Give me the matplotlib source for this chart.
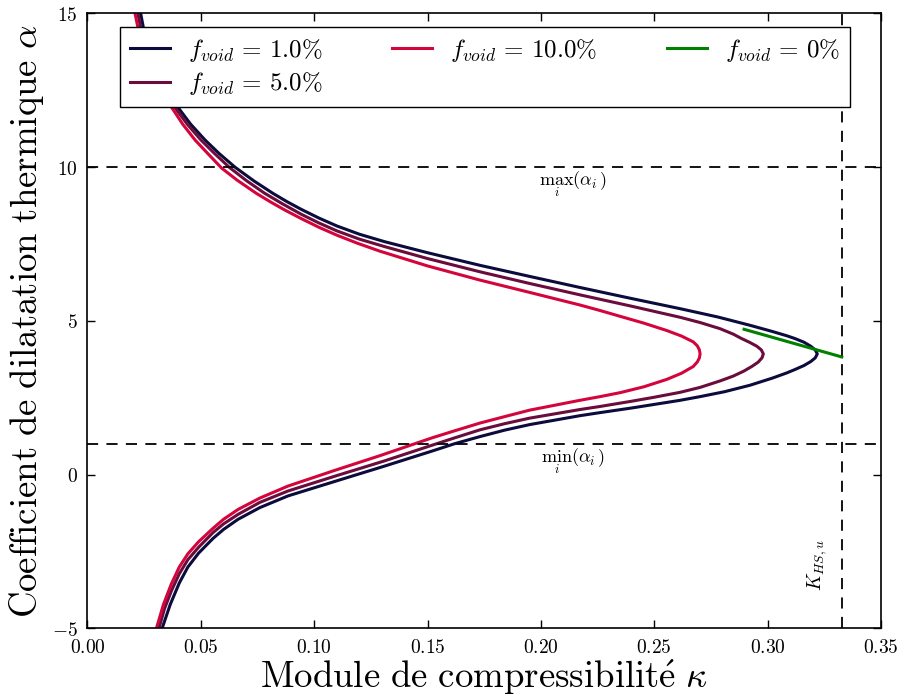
## alpha vs kappa curves for several void fractions

import numpy as np
import matplotlib
matplotlib.use('Agg')
import matplotlib.pyplot as plt
from matplotlib.ticker import FuncFormatter

plt.rcParams['mathtext.fontset'] = 'cm'
plt.rcParams['lines.scale_dashes'] = False

## curve points: upper branch (top -> tip) then lower branch (tip -> bottom)
kappa_1 = [0.0232, 0.0246, 0.029, 0.0355, 0.0408, 0.0455, 0.0518, 0.058, 0.0651, 0.0735, 0.0818, 0.088,
           0.0943, 0.102, 0.110, 0.120, 0.131, 0.150, 0.1731, 0.195, 0.2172, 0.240, 0.2614, 0.278,
           0.2922, 0.302, 0.3084, 0.312, 0.316, 0.319, 0.321, 0.3219,
           0.321, 0.319, 0.316, 0.312, 0.3084, 0.302, 0.2922, 0.281, 0.2702, 0.2614, 0.240, 0.2261,
           0.2172, 0.195, 0.184, 0.1731, 0.162, 0.152, 0.131, 0.109, 0.0884, 0.076, 0.0664, 0.060,
           0.0554, 0.049, 0.0443, 0.0405, 0.0365, 0.0329]
alpha_1 = [15.1, 14.56, 13.5, 12.5, 11.86, 11.4, 10.89, 10.45, 10.0, 9.55, 9.15, 8.88,
           8.63, 8.35, 8.09, 7.82, 7.58, 7.22, 6.81, 6.45, 6.09, 5.73, 5.40, 5.13,
           4.86, 4.66, 4.52, 4.43, 4.31, 4.18, 4.06, 3.93,
           3.80, 3.68, 3.55, 3.42, 3.31, 3.14, 2.91, 2.70, 2.54, 2.42, 2.17, 2.02,
           1.92, 1.63, 1.45, 1.24, 1.01, 0.77, 0.28, -0.22, -0.69, -1.07, -1.45, -1.78,
           -2.07, -2.55, -3.0, -3.52, -4.22, -5.0]

kappa_5 = [0.0220, 0.0234, 0.0277, 0.034, 0.0394, 0.0440, 0.0500, 0.0560, 0.0625, 0.0700, 0.0780,
           0.0860, 0.0943, 0.102, 0.110, 0.120, 0.131, 0.150, 0.1731, 0.195, 0.2172, 0.240, 0.2614,
           0.2702, 0.279, 0.2849, 0.2882, 0.2922, 0.2952, 0.2972, 0.2981,
           0.2975, 0.2958, 0.2930, 0.2895, 0.2849, 0.279, 0.2702, 0.2614, 0.250, 0.240, 0.2261,
           0.2172, 0.195, 0.184, 0.1731, 0.162, 0.152, 0.131, 0.109, 0.0884, 0.076, 0.0664, 0.060,
           0.0554, 0.049, 0.0443, 0.0405, 0.0370, 0.0340, 0.0315]
alpha_5 = [15.1, 14.56, 13.5, 12.5, 11.86, 11.4, 10.89, 10.45, 10.0, 9.57, 9.16,
           8.81, 8.47, 8.19, 7.93, 7.66, 7.42, 7.03, 6.60, 6.22, 5.85, 5.48, 5.12,
           4.95, 4.75, 4.57, 4.44, 4.30, 4.18, 4.06, 3.93,
           3.80, 3.66, 3.52, 3.37, 3.21, 3.05, 2.84, 2.68, 2.52, 2.39, 2.22,
           2.12, 1.84, 1.66, 1.46, 1.20, 0.96, 0.45, -0.05, -0.53, -0.90, -1.29, -1.60,
           -1.88, -2.36, -2.76, -3.22, -3.78, -4.35, -5.0]

kappa_10 = [0.0207, 0.0222, 0.0263, 0.032, 0.0379, 0.042, 0.0474, 0.053, 0.0592, 0.066, 0.0745,
            0.081, 0.087, 0.094, 0.102, 0.110, 0.119, 0.129, 0.150, 0.1731, 0.195, 0.2172, 0.2261,
            0.235, 0.2454, 0.2555, 0.262, 0.2672, 0.2690, 0.2699, 0.2702,
            0.2699, 0.2690, 0.2672, 0.262, 0.2555, 0.2454, 0.235, 0.2261, 0.2172, 0.195, 0.184,
            0.1731, 0.162, 0.152, 0.129, 0.109, 0.0884, 0.076, 0.0664, 0.060, 0.0554, 0.049,
            0.0443, 0.0405, 0.037, 0.0335, 0.0304]
alpha_10 = [15.1, 14.56, 13.5, 12.5, 11.86, 11.4, 10.89, 10.45, 9.97, 9.58, 9.15,
            8.86, 8.61, 8.34, 8.05, 7.79, 7.53, 7.27, 6.79, 6.33, 5.93, 5.52, 5.34,
            5.15, 4.93, 4.69, 4.51, 4.32, 4.19, 4.06, 3.93,
            3.80, 3.67, 3.52, 3.30, 3.10, 2.86, 2.67, 2.54, 2.42, 2.10, 1.89,
            1.68, 1.43, 1.20, 0.62, 0.14, -0.37, -0.76, -1.13, -1.45, -1.74, -2.18,
            -2.57, -3.00, -3.55, -4.22, -5.0]

## no void line
kappa_0 = [0.2896, 0.3327]
alpha_0 = [4.73, 3.83]

alpha_max = 10.0
alpha_min = 1.0
k_hs = 0.3327

fig = plt.figure(figsize=(9.01, 6.99), dpi=100)
ax = fig.add_axes([0.0971, 0.1009, 0.8807, 0.8798])

ax.plot(kappa_1, alpha_1, color='#0b0b3d', lw=2.2, label=r'$f_{void}\,=\,1.0\%$')
ax.plot(kappa_5, alpha_5, color='#6a0c3c', lw=2.2, label=r'$f_{void}\,=\,5.0\%$')
ax.plot(kappa_10, alpha_10, color='#d4043c', lw=2.2, label=r'$f_{void}\,=\,10.0\%$')
ax.plot(kappa_0, alpha_0, color='green', lw=2.2, label=r'$f_{void}\,=\,0\%$')

## bounds
ax.axhline(alpha_max, color='k', lw=1.3, dashes=(8, 6))
ax.axhline(alpha_min, color='k', lw=1.3, dashes=(8, 6))
ax.axvline(k_hs, color='k', lw=1.3, dashes=(8, 6))
ax.text(0.214, alpha_max - 0.55, r'$\max_i(\alpha_i)$', ha='center', va='center', fontsize=13)
ax.text(0.214, alpha_min - 0.55, r'$\min_i(\alpha_i)$', ha='center', va='center', fontsize=13)
ax.text(0.322, -2.95, r'$K_{HS,u}$', ha='center', va='center', fontsize=14, rotation=90)

ax.set_xlim(0, 0.35)
ax.set_ylim(-5, 15)
ax.set_xticks(np.arange(0, 0.351, 0.05))
ax.set_yticks([-5, 0, 5, 10, 15])
ax.xaxis.set_major_formatter(FuncFormatter(lambda v, p: r'$%.2f$' % v))
ax.yaxis.set_major_formatter(FuncFormatter(lambda v, p: r'$%d$' % round(v)))
ax.tick_params(direction='in', top=True, right=True, length=6, width=1, labelsize=14, pad=7)
for s in ax.spines.values():
    s.set_linewidth(1.2)

ax.set_xlabel(r'$\mathrm{Module\ de\ compressibilit\acute{e}}\ \kappa$', fontsize=26.5, labelpad=0)
ax.set_ylabel(r'$\mathrm{Coefficient\ de\ dilatation\ thermique}\ \alpha$', fontsize=26.5, labelpad=4)

leg = ax.legend(ncol=3, loc='upper left', bbox_to_anchor=(0.041, 0.0, 0.920, 0.978), mode='expand',
                borderaxespad=0, fontsize=18, fancybox=False, framealpha=1, edgecolor='k',
                handlelength=1.6, handletextpad=0.7, borderpad=0.4, labelspacing=0.25)
leg.get_frame().set_linewidth(1.0)

fig.savefig('out.png', dpi=100)
